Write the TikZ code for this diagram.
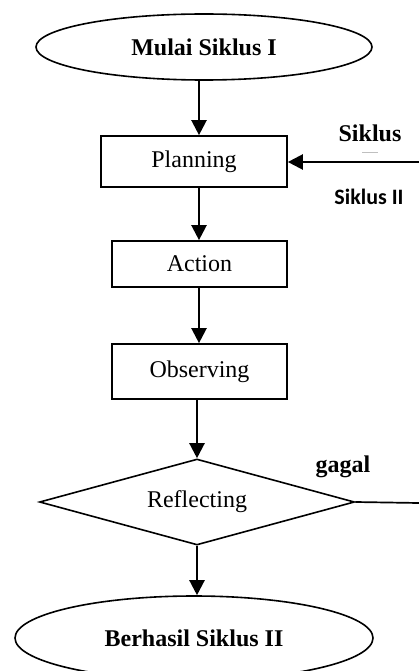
\documentclass[tikz,border=0pt]{standalone}
\usepackage{fontspec}
\setmainfont{Liberation Serif}
\newfontfamily\calib{Carlito}
\usetikzlibrary{shapes.geometric,arrows.meta}
\begin{document}
\begin{tikzpicture}[x=1pt,y=-1pt,
  every node/.style={font=\fontsize{24}{28}\selectfont, inner sep=0pt},
  stepbox/.style={draw, line width=1.7pt, rectangle},
  term/.style={draw, line width=1.6pt, ellipse, font=\fontsize{24}{28}\selectfont\bfseries},
  decide/.style={draw, line width=1.6pt, diamond, aspect=3.66},
  arr/.style={line width=2.3pt, -{Triangle[length=15pt,width=15pt]}},
  plain/.style={line width=1.7pt}]
\useasboundingbox (0,0) rectangle (419,671);
\clip (0,0) rectangle (419,671);
\coordinate (ax) at (199,0);
\node[term, minimum width=336pt, minimum height=66pt] (start) at (204,47) {Mulai Siklus I};
\node[stepbox, minimum width=186pt, minimum height=51pt] (plan) at (194,161.5) {Planning};
\node[stepbox, minimum width=175pt, minimum height=46pt] (act) at (199.5,264) {Action};
\node[stepbox, minimum width=175pt, minimum height=55pt] (obs) at (199.5,371.5) {Observing};
\node[decide, minimum width=315pt, minimum height=86pt] (refl) at (197,502) {Reflecting};
\node[term, minimum width=358pt, minimum height=84pt] (fin) at (194,638) {Berhasil Siklus II};
\node[font=\fontsize{24}{28}\selectfont\bfseries] (sik) at (370,133) {Siklus};
\node[font=\calib\fontsize{22}{26}\selectfont\bfseries] (sik2) at (369,197) {Siklus II};
\node[font=\fontsize{24}{28}\selectfont\bfseries] (gagal) at (343,467) {gagal};
\coordinate (inR) at (419,162);
\coordinate (outR) at (419,503);
\draw[arr] (start.south -| ax) -- (plan.north -| ax);
\draw[arr] (plan.south -| ax) -- (act.north -| ax);
\draw[arr] (act.south -| ax) -- (obs.north -| ax);
\draw[arr] (obs.south -| refl.north) -- (refl.north);
\draw[arr] (refl.south) -- (fin.north -| refl.south);
\draw[arr] (inR) -- (inR -| plan.east);
\draw[plain] (refl.east) -- (outR);
\draw[gray!50, line width=0.6pt] (362,152) -- (378,152);
\end{tikzpicture}
\end{document}
